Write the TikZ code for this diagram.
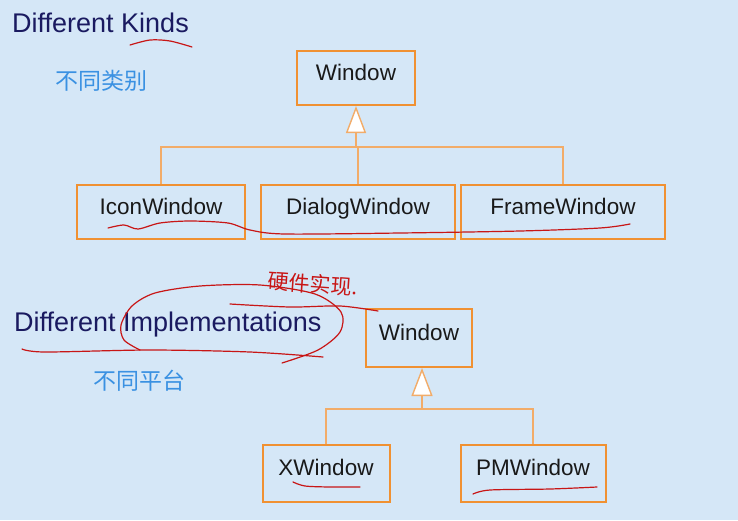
\documentclass[tikz,border=0pt]{standalone}
\usepackage{fontspec}
\setmainfont{Liberation Sans}
\newfontfamily\cjk{Noto Sans CJK SC}
\usetikzlibrary{arrows.meta,positioning}

\definecolor{bgblue}{RGB}{213,231,247}
\definecolor{boxorange}{RGB}{240,145,50}
\definecolor{lineorange}{RGB}{242,172,105}
\definecolor{titlenavy}{RGB}{26,26,96}
\definecolor{cnblue}{RGB}{58,145,226}
\definecolor{penred}{RGB}{200,22,22}

\tikzset{
  cls/.style={draw=boxorange, line width=2pt, text=black!90, inner sep=0pt,
    text height=16pt, text depth=12pt, font=\fontsize{22.5}{27}\selectfont},
  link/.style={draw=lineorange, line width=1.4pt},
  inherit/.style={link, -{Triangle[length=27pt, width=20pt, fill=white]}},
  title/.style={anchor=base west, inner sep=0pt, text=titlenavy,
    font=\fontsize{27}{32}\selectfont},
  cnlabel/.style={anchor=west, inner sep=0pt, text=cnblue,
    font=\cjk\fontsize{23}{28}\selectfont},
  pen/.style={draw=penred, line width=1.2pt, line cap=round, line join=round}
}

\begin{document}
\begin{tikzpicture}[x=1pt,y=-1pt]
%background
\fill[bgblue] (0,0) rectangle (738,520);
\useasboundingbox (0,0) rectangle (738,520);

%titles
\node[title] (kinds) at (12,32) {Different Kinds};
\node[cnlabel] (kindscn) at (55,81) {不同类别};
\node[title] (impls) at (14,331) {Different Implementations};
\node[cnlabel] (implscn) at (93,381) {不同平台};

%first hierarchy
\node[cls, minimum width=118pt, minimum height=54pt] (win) at (356,78) {Window};
\node[cls, minimum width=168pt, minimum height=54pt] (icon) at (161,212) {IconWindow};
\node[cls, minimum width=194pt, minimum height=54pt] (dialog) at (358,212) {DialogWindow};
\node[cls, minimum width=204pt, minimum height=54pt] (frame) at (563,212) {FrameWindow};
\coordinate (kj) at (356,147);
\draw[link] (icon.north) |- (kj) -| (frame.north);
\draw[link] (dialog.north) -- (dialog.north |- kj);
\draw[inherit] (kj) -- (win.south);

%second hierarchy
\node[cls, minimum width=106pt, minimum height=58pt] (win2) at (419,338) {Window};
\node[cls, minimum width=127pt, minimum height=57pt] (xwin) at (326,473) {XWindow};
\node[cls, minimum width=145pt, minimum height=57pt] (pmwin) at (533,473) {PMWindow};
\coordinate (ij) at (422,409);
\draw[link] (xwin.north) |- (ij) -| (pmwin.north);
\draw[inherit, -{Triangle[length=28pt, width=21pt, fill=white]}] (ij) -- (ij |- win2.south);

%handwritten notes
\node[text=penred, font=\cjk\fontsize{21}{25}\selectfont, rotate=-4, inner sep=0pt]
  (note) at (313,284) {硬件实现.};
\draw[pen] plot[smooth] coordinates {(130,45) (150,40) (170,41) (192,47)};
\draw[pen] plot[smooth] coordinates {(108,228) (124,225) (138,229) (160,223)
  (190,221) (228,223) (250,230) (285,234) (400,233) (520,231) (600,228) (630,224)};
\draw[pen] plot[smooth] coordinates {(22,349) (45,352) (150,350) (250,352) (323,357)};
\draw[pen] plot[smooth] coordinates {(140,350) (124,340) (121,325) (132,306)
  (155,293) (200,286) (260,285) (315,294) (341,312) (340,332) (318,350) (282,363)};
\draw[pen] plot[smooth] coordinates {(230,304) (290,307) (340,306) (378,311)};
\draw[pen] plot[smooth] coordinates {(293,482) (305,486) (330,487) (360,487)};
\draw[pen] plot[smooth] coordinates {(473,494) (490,490) (550,489) (597,487)};
\end{tikzpicture}
\end{document}
